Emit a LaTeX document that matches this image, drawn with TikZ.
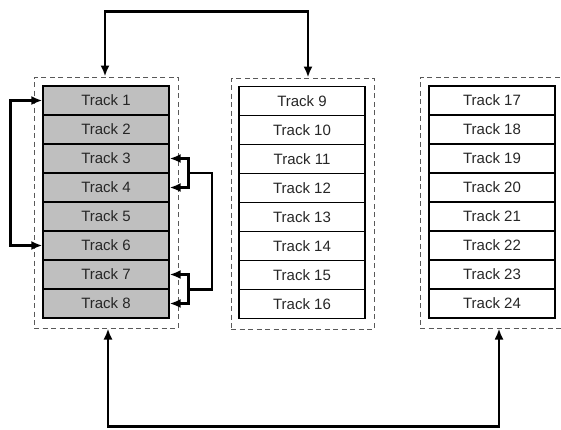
\documentclass[tikz,border=0pt]{standalone}
\usepackage{fontspec}
\setmainfont{Liberation Sans}
\usetikzlibrary{arrows.meta}
\begin{document}
\begin{tikzpicture}[x=1pt,y=-1pt,
  trk/.style={draw=black,line width=1.2pt,minimum width=126pt,minimum height=29pt,inner sep=0pt,
    font=\fontsize{15}{15}\selectfont,text=black!85},
  grey/.style={fill=black!25},
  grp/.style={draw=black!65,dash pattern=on 5pt off 3.5pt,line width=1pt,inner sep=0pt,minimum height=251pt},
  conn/.style={line width=2.8pt,{Latex[length=11pt,width=9pt]}-{Latex[length=11pt,width=9pt]}}]
\useasboundingbox (0,0) rectangle (561,429);
% groups
\node[grp,minimum width=144pt] (g1) at (106,202.5) {};
\node[grp,minimum width=143pt] (g2) at (302.5,203.5) {};
\begin{scope}
\clip (0,0) rectangle (561,429);
\node[grp,minimum width=144pt] (g3) at (492,202.5) {};
\end{scope}
% tracks
\foreach \i in {1,...,8}{
  \node[trk,grey] (t\i) at (106,{100.5+29*(\i-1)}) {Track \i};
}
\foreach \i in {9,...,16}{
  \node[trk] (t\i) at (302,{101+29*(\i-9)}) {Track \i};
}
\foreach \i in {17,...,24}{
  \node[trk] (t\i) at (492,{100.5+29*(\i-17)}) {Track \i};
}
% connectors
\draw[conn] ([xshift=-1pt]g1.north) -- ++(0,-65) -| ([xshift=5.5pt]g2.north);
\draw[conn] ([xshift=2pt]g1.south) -- ++(0,98) -| ([xshift=7pt]g3.south);
\draw[conn] (t1.west) -- ++(-32,0) |- (t6.west);
\coordinate (b1) at (188,173);
\coordinate (b2) at (188,289.5);
\draw[conn] (t3.east) -- ++(19,0) |- (t4.east);
\draw[conn] (t7.east) -- ++(19,0) |- (t8.east);
\draw[line width=2.8pt] (b1) -- ++(24,0) |- (b2);
\end{tikzpicture}
\end{document}
